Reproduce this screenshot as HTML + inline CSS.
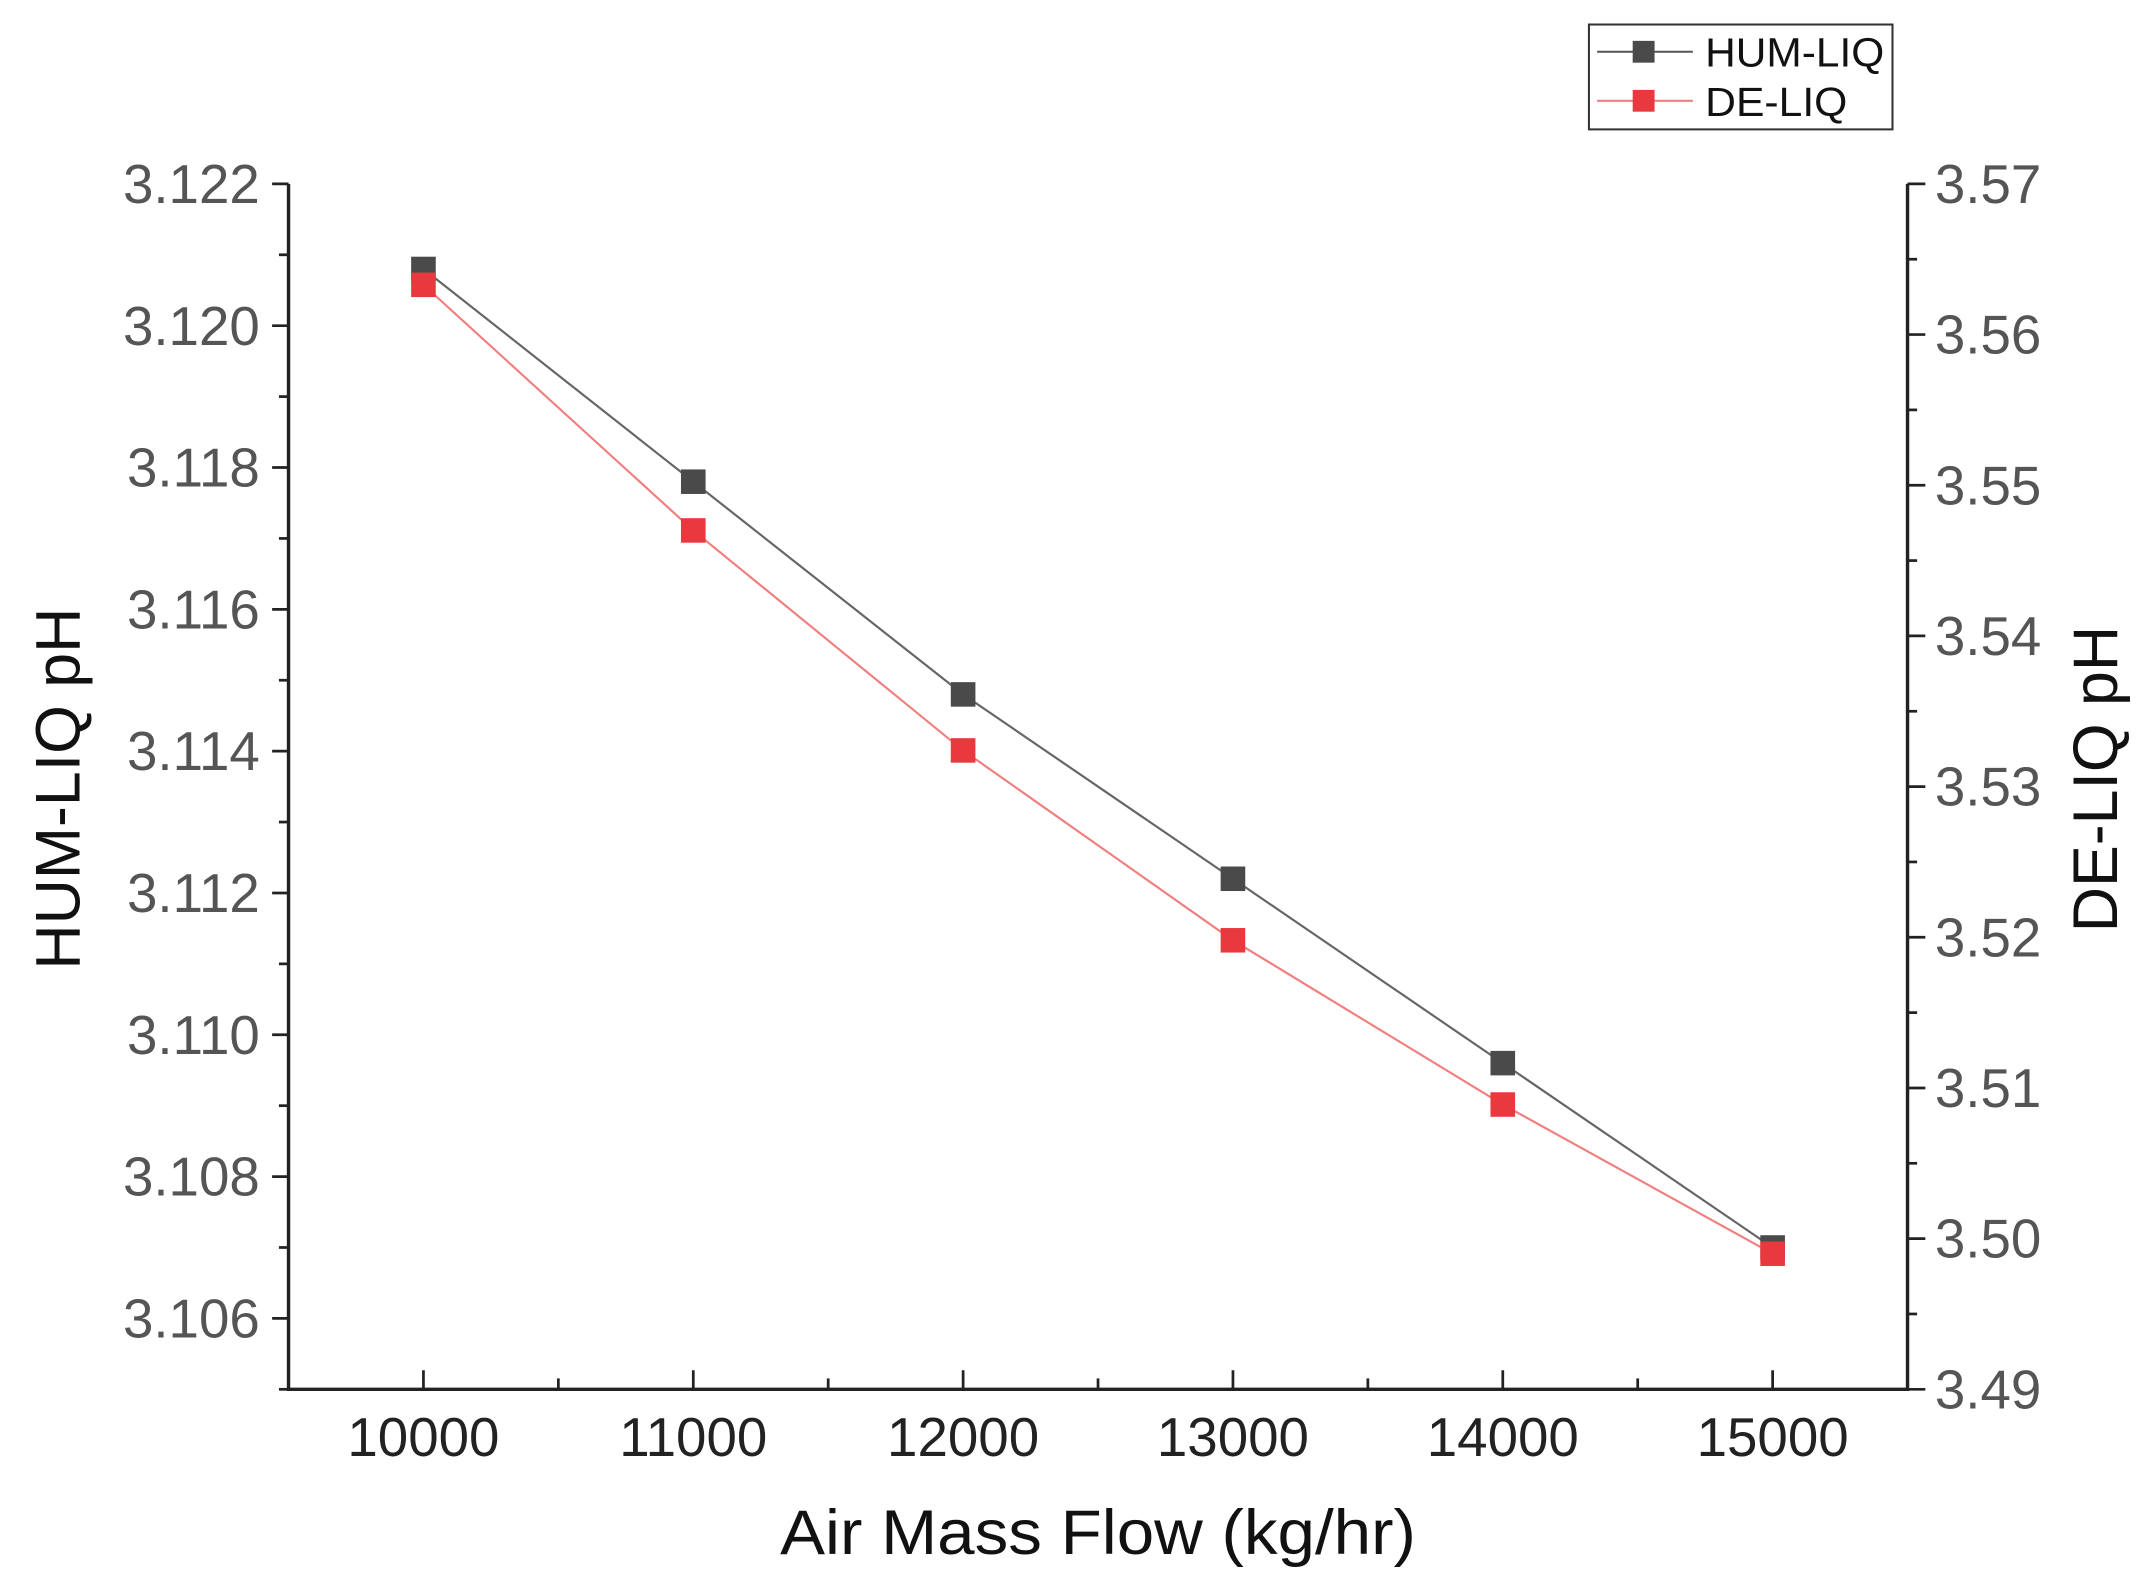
<!DOCTYPE html>
<html><head><meta charset="utf-8"><style>
html,body{margin:0;padding:0;background:#fff}
svg{display:block}
text{font-family:"Liberation Sans",Arial,sans-serif}
</style></head><body>
<svg id="chart" width="2140" height="1580" viewBox="0 0 1565 1160" preserveAspectRatio="none" xmlns="http://www.w3.org/2000/svg">
<g id="axes"></g>
<g id="series"></g>
<text transform="translate(58,579) rotate(-90)" text-anchor="middle" font-size="46" fill="#111">HUM-LIQ pH</text>
<text transform="translate(1548,572) rotate(-90)" text-anchor="middle" font-size="46" fill="#111">DE-LIQ pH</text>
<text x="803" y="1141" text-anchor="middle" font-size="46" textLength="465" lengthAdjust="spacingAndGlyphs" fill="#111">Air Mass Flow (kg/hr)</text>
<g>
<rect x="1162" y="18" width="222" height="77" fill="#fff" stroke="#333" stroke-width="1.5"/>
<g>
<line x1="1168" y1="38" x2="1238" y2="38" stroke="#555" stroke-width="1.5"/>
<rect x="1194" y="30" width="16" height="16" fill="#4a4a4a"/>
<text x="1247" y="49" font-size="30" textLength="131" lengthAdjust="spacingAndGlyphs" fill="#111">HUM-LIQ</text></g>
<g>
<line x1="1168" y1="74" x2="1238" y2="74" stroke="#f08080" stroke-width="1.5"/>
<rect x="1194" y="66" width="16" height="16" fill="#e8393f"/>
<text x="1247" y="85" font-size="30" textLength="104" lengthAdjust="spacingAndGlyphs" fill="#111">DE-LIQ</text></g>
</g>
</svg>
<script>
const categories=[10000,11000,12000,13000,14000,15000];
const humValues=[3.1208,3.1178,3.1148,3.1122,3.1096,3.1070];
const deValues=[3.5633,3.5470,3.5324,3.5198,3.5089,3.4990];
const leftTicks=[3.106,3.108,3.110,3.112,3.114,3.116,3.118,3.120,3.122];
const rightTicks=[3.49,3.50,3.51,3.52,3.53,3.54,3.55,3.56,3.57];
const xTicks=[10000,11000,12000,13000,14000,15000];
const NS="http://www.w3.org/2000/svg";
const L=211,R=1395,T=135,B=1020;
const xS=v=>L+(v-9500)/6000*(R-L);
const yL=v=>T+(3.122-v)/(3.122-3.105)*(B-T);
const yR=v=>T+(3.57-v)/(0.08)*(B-T);
function mk(tag,attrs,parent){const e=document.createElementNS(NS,tag);for(const k in attrs)e.setAttribute(k,attrs[k]);parent.appendChild(e);return e;}
const ax=document.getElementById('axes');
const frame=mk('path',{d:`M${L},${T} L${L},${B} L${R},${B} L${R},${T}`,fill:'none',stroke:'#222','stroke-width':2.5},ax);


leftTicks.forEach(v=>{const y=yL(v);
 mk('line',{x1:L-12,y1:y,x2:L,y2:y,stroke:'#222','stroke-width':2},ax);
 const m=yL(v+0.001); if(m>T-1) mk('line',{x1:L-7,y1:m,x2:L,y2:m,stroke:'#222','stroke-width':2},ax);
 const t=mk('text',{x:190,y:y+14,'text-anchor':'end','font-size':40,fill:'#555'},ax);t.textContent=v.toFixed(3);
 
 });
mk('line',{x1:L-7,y1:yL(3.105),x2:L,y2:yL(3.105),stroke:'#222','stroke-width':2},ax);
rightTicks.forEach(v=>{const y=yR(v);
 mk('line',{x1:R,y1:y,x2:R+13,y2:y,stroke:'#222','stroke-width':2},ax);
 const m=yR(v+0.005); if(m>T-1) mk('line',{x1:R,y1:m,x2:R+7,y2:m,stroke:'#222','stroke-width':2},ax);
 const t=mk('text',{x:1415,y:y+14,'font-size':40,fill:'#555'},ax);t.textContent=v.toFixed(2);
 
 });
xTicks.forEach(v=>{const x=xS(v);
 mk('line',{x1:x,y1:B-14,x2:x,y2:B,stroke:'#222','stroke-width':2},ax);
 const m=xS(v+500); if(m<R-1) mk('line',{x1:m,y1:B-8,x2:m,y2:B,stroke:'#222','stroke-width':2},ax);
 const t=mk('text',{x:x,y:1069,'text-anchor':'middle','font-size':40,fill:'#222'},ax);t.textContent=v;
 
 });
const sg=document.getElementById('series');
function series(vals,ys,lc,mc,name){
 const pl=mk('polyline',{points:vals.map((v,i)=>xS(categories[i])+','+ys(v)).join(' '),fill:'none',stroke:lc,'stroke-width':1.6},sg);
 
 
 vals.forEach((v,i)=>{const r=mk('rect',{x:xS(categories[i])-9,y:ys(v)-9,width:18,height:18,fill:mc},sg);
  
  });
}
series(humValues,yL,'#666','#4a4a4a','hum-liq');
series(deValues,yR,'#f08080','#e8393f','de-liq');
</script>
</body></html>
